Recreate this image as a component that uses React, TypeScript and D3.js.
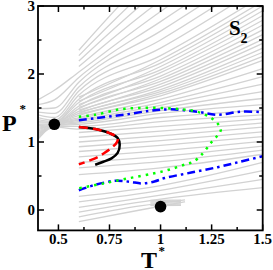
import React from 'react';
import * as d3 from 'd3';

const width = 273;
const height = 270;

// axes
const xDomain = [0.4, 1.5];
const yDomain = [-0.3, 3];
const xTicks = [0.5, 0.75, 1, 1.25, 1.5];
const xTickLabels = ['0.5', '0.75', '1', '1.25', '1.5'];
const xMinorTicks = [0.625, 0.875, 1.125, 1.375];
const yTicks = [0, 1, 2, 3];
const yTickLabels = ['0', '1', '2', '3'];
const yMinorTicks = [0.5, 1.5, 2.5];

// gray isochores, P read at fixed T columns (null = line not drawn there)
const upperT = [0.4, 0.48, 0.6, 1.0, 1.5];
const upperP = [
  [null, null, 2.35, 3.6, 4.6],
  [null, null, 2.27, 3.42, 4.42],
  [null, null, 2.19, 3.25, 4.25],
  [null, null, 2.11, 3.08, 4.08],
  [1.62, 1.76, 2.03, 2.92, 3.92],
  [1.55, 1.62, 1.95, 2.77, 3.76],
  [1.49, 1.5, 1.88, 2.63, 3.6],
  [1.44, 1.42, 1.81, 2.5, 3.45],
  [1.4, 1.36, 1.75, 2.38, 3.3],
  [1.36, 1.32, 1.69, 2.27, 3.15],
  [null, null, 1.66, 2.21, 3.07],
  [1.33, 1.3, 1.63, 2.16, 3.0],
  [null, null, 1.6, 2.11, 2.93],
  [1.3, 1.29, 1.58, 2.06, 2.86],
  [null, null, 1.55, 2.02, 2.79],
  [1.28, 1.28, 1.53, 1.97, 2.72],
  [null, null, 1.51, 1.93, 2.65],
  [1.26, 1.27, 1.49, 1.89, 2.58],
  [null, null, 1.47, 1.85, 2.51],
  [1.24, 1.27, 1.45, 1.81, 2.45],
  [null, null, 1.44, 1.77, 2.38],
  [1.22, 1.26, 1.42, 1.74, 2.32],
  [null, null, 1.41, 1.71, 2.26],
  [1.2, 1.26, 1.39, 1.68, 2.2],
  [1.18, 1.26, 1.36, 1.63, 2.08],
  [1.16, 1.25, 1.34, 1.58, 1.96],
  [1.14, 1.25, 1.32, 1.54, 1.85],
  [1.12, 1.25, 1.3, 1.5, 1.74],
  [1.1, 1.24, 1.28, 1.46, 1.64],
  [1.08, 1.24, 1.26, 1.42, 1.55],
  [1.06, 1.23, 1.23, 1.36, 1.47],
  [1.04, 1.22, 1.19, 1.3, 1.4],
];

const lowerT = [0.6, 1.0, 1.5];
const lowerP = [
  [1.14, 1.23, 1.34],
  [1.07, 1.16, 1.28],
  [1.0, 1.09, 1.22],
  [0.93, 1.02, 1.15],
  [0.86, 0.95, 1.08],
  [0.78, 0.87, 1.01],
  [0.7, 0.79, 0.94],
  [0.62, 0.71, 0.88],
  [0.52, 0.62, 0.82],
  [0.2, 0.36, 0.7],
  [0.12, 0.29, 0.58],
  [0.04, 0.22, 0.45],
  [-0.03, 0.16, 0.33],
];

const bottomT = [0.6, 0.9, 1.12];
const bottomP = [
  [-0.1, 0.06, 0.15],
  [-0.17, 0.0, 0.12],
];

const bandT = [0.95, 1.1];
const bandP = [
  [0.14, 0.145],
  [0.12, 0.125],
  [0.1, 0.105],
  [0.08, 0.085],
  [0.065, 0.07],
];

// coloured curves
const blackT = [0.6, 0.68, 0.75, 0.79, 0.8, 0.79, 0.76, 0.72, 0.68];
const blackP = [1.22, 1.19, 1.13, 1.06, 0.96, 0.84, 0.76, 0.71, 0.665];

const redT = [0.6, 0.68, 0.75, 0.79, 0.785, 0.757, 0.723, 0.69, 0.65, 0.6];
const redP = [1.22, 1.19, 1.13, 1.06, 0.99, 0.907, 0.834, 0.775, 0.725, 0.67];

const greenT = [0.6, 0.68, 0.8, 0.9, 1.0, 1.1, 1.18, 1.25, 1.285, 1.295, 1.28, 1.25, 1.2, 1.16, 1.12, 1.05, 0.97, 0.85, 0.72, 0.6];
const greenP = [1.37, 1.4, 1.48, 1.5, 1.5, 1.48, 1.445, 1.35, 1.25, 1.18, 1.1, 1.0, 0.81, 0.71, 0.67, 0.6, 0.54, 0.47, 0.39, 0.32];

const blueUpperT = [0.6, 0.68, 0.82, 0.95, 1.05, 1.18, 1.28, 1.39, 1.5];
const blueUpperP = [1.32, 1.35, 1.4, 1.46, 1.48, 1.445, 1.4, 1.445, 1.44];

const blueLowerT = [0.6, 0.68, 0.78, 0.85, 0.91, 0.97, 1.02, 1.15, 1.28, 1.39, 1.5];
const blueLowerP = [0.29, 0.37, 0.43, 0.415, 0.39, 0.42, 0.47, 0.55, 0.63, 0.71, 0.79];

const dotT = [0.48, 1.0];
const dotP = [1.26, 0.05];

type Pt = [number, number];

function rowsToLines(ts: number[], rows: (number | null)[][]): Pt[][] {
  return rows.map((r) =>
    r.map((p, i) => [ts[i], p]).filter((d) => d[1] !== null) as Pt[]
  );
}

function zipPts(ts: number[], ps: number[]): Pt[] {
  return ts.map((t, i) => [t, ps[i]] as Pt);
}

export default function App() {
  const x = d3.scaleLinear().domain(xDomain).range([38, 262.7]);
  const y = d3.scaleLinear().domain(yDomain).range([230.4, 6]);

  const isoLine = d3
    .line<Pt>()
    .x((d) => x(d[0]))
    .y((d) => y(d[1]))
    .curve(d3.curveMonotoneX);

  const curve = d3
    .line<Pt>()
    .x((d) => x(d[0]))
    .y((d) => y(d[1]))
    .curve(d3.curveCatmullRom.alpha(0.5));

  const grayLines = [
    ...rowsToLines(upperT, upperP),
    ...rowsToLines(lowerT, lowerP),
    ...rowsToLines(bottomT, bottomP),
    ...rowsToLines(bandT, bandP),
  ];

  const x0 = x(xDomain[0]);
  const x1 = x(xDomain[1]);
  const y0 = y(yDomain[0]);
  const y1 = y(yDomain[1]);
  const font = "'Liberation Serif', 'Times New Roman', serif";

  return (
    <svg
      width={width}
      height={height}
      style={{ position: 'absolute', left: 0, top: 0, background: '#fff' }}
    >
      <defs>
        <clipPath id="plot-clip">
          <rect x={x0} y={y1} width={x1 - x0} height={y0 - y1} />
        </clipPath>
      </defs>

      <g clipPath="url(#plot-clip)">
        {grayLines.map((pts, i) => (
          <path key={i} d={isoLine(pts) || ''} fill="none" stroke="#d2d2d2" strokeWidth={1.3} />
        ))}

        <path d={curve(zipPts(blackT, blackP)) || ''} fill="none" stroke="#000" strokeWidth={2.5} />
        <path
          d={curve(zipPts(redT, redP)) || ''}
          fill="none"
          stroke="#ff0000"
          strokeWidth={2.5}
          strokeDasharray="9,5"
        />
        <path
          d={curve(zipPts(blueUpperT, blueUpperP)) || ''}
          fill="none"
          stroke="#0000ff"
          strokeWidth={2.5}
          strokeDasharray="8,4,2.5,4"
        />
        <path
          d={curve(zipPts(blueLowerT, blueLowerP)) || ''}
          fill="none"
          stroke="#0000ff"
          strokeWidth={2.5}
          strokeDasharray="8,4,2.5,4"
        />
        <path
          d={curve(zipPts(greenT, greenP)) || ''}
          fill="none"
          stroke="#00ff00"
          strokeWidth={2.5}
          strokeDasharray="2.5,5"
        />

        {dotT.map((t, i) => (
          <circle key={i} cx={x(t)} cy={y(dotP[i])} r={5.8} fill="#000" />
        ))}
      </g>

      {/* frame */}
      <rect x={x0} y={y1} width={x1 - x0} height={y0 - y1} fill="none" stroke="#000" strokeWidth={1.8} />

      {/* x ticks, bottom and top */}
      {xTicks.map((t) => (
        <g key={'xt' + t}>
          <line x1={x(t)} x2={x(t)} y1={y0} y2={y0 - 6} stroke="#000" strokeWidth={1.5} />
          <line x1={x(t)} x2={x(t)} y1={y1} y2={y1 + 6} stroke="#000" strokeWidth={1.5} />
        </g>
      ))}
      {xMinorTicks.map((t) => (
        <g key={'xm' + t}>
          <line x1={x(t)} x2={x(t)} y1={y0} y2={y0 - 3.5} stroke="#000" strokeWidth={1.5} />
          <line x1={x(t)} x2={x(t)} y1={y1} y2={y1 + 3.5} stroke="#000" strokeWidth={1.5} />
        </g>
      ))}
      {xTicks.map((t, i) => (
        <text
          key={'xl' + t}
          x={x(t)}
          y={243.5}
          textAnchor="middle"
          fontFamily={font}
          fontWeight="bold"
          fontSize={15}
        >
          {xTickLabels[i]}
        </text>
      ))}

      {/* y ticks, left and right */}
      {yTicks.map((t) => (
        <g key={'yt' + t}>
          <line x1={x0} x2={x0 + 6} y1={y(t)} y2={y(t)} stroke="#000" strokeWidth={1.5} />
          <line x1={x1} x2={x1 - 6} y1={y(t)} y2={y(t)} stroke="#000" strokeWidth={1.5} />
        </g>
      ))}
      {yMinorTicks.map((t) => (
        <g key={'ym' + t}>
          <line x1={x0} x2={x0 + 3.5} y1={y(t)} y2={y(t)} stroke="#000" strokeWidth={1.5} />
          <line x1={x1} x2={x1 - 3.5} y1={y(t)} y2={y(t)} stroke="#000" strokeWidth={1.5} />
        </g>
      ))}
      {yTicks.map((t, i) => (
        <text
          key={'yl' + t}
          x={35}
          y={y(t) + 5}
          textAnchor="end"
          fontFamily={font}
          fontWeight="bold"
          fontSize={15}
        >
          {yTickLabels[i]}
        </text>
      ))}

      {/* axis titles */}
      <text x={2} y={131} fontFamily={font} fontWeight="bold" fontSize={24}>
        P
      </text>
      <text x={19.5} y={113} fontFamily={font} fontWeight="bold" fontSize={13}>
        *
      </text>
      <text x={141} y={268} fontFamily={font} fontWeight="bold" fontSize={24}>
        T
      </text>
      <text x={158.5} y={255} fontFamily={font} fontWeight="bold" fontSize={13}>
        *
      </text>

      {/* panel label */}
      <text x={229} y={35} fontFamily={font} fontWeight="bold" fontSize={21}>
        S
      </text>
      <text x={240.5} y={43} fontFamily={font} fontWeight="bold" fontSize={14}>
        2
      </text>
    </svg>
  );
}
